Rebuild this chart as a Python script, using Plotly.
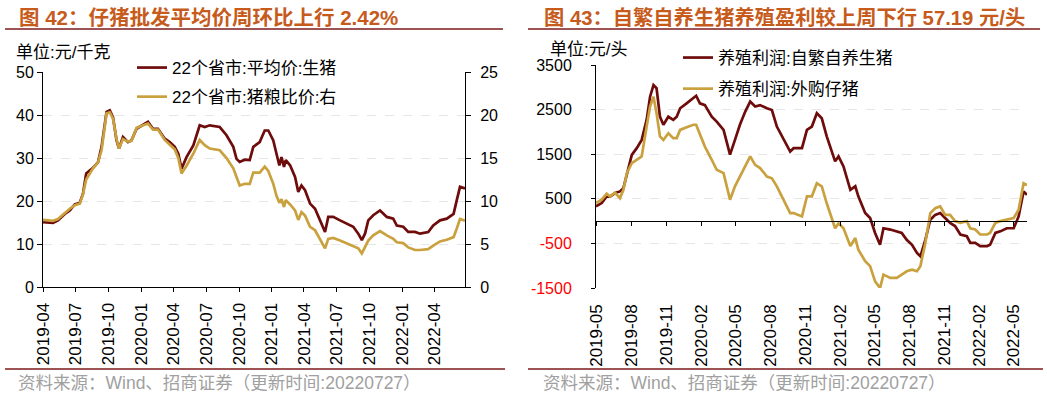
import plotly.graph_objects as go

W, H = 1047, 397

# ---------------- data: left chart (22 provinces) ----------------
left_dates = [
    "2019-04-01", "2019-04-29", "2019-05-13", "2019-06-01", "2019-06-15", "2019-06-29",
    "2019-07-13", "2019-07-22", "2019-07-31", "2019-08-19", "2019-09-02", "2019-09-12",
    "2019-09-26", "2019-10-05", "2019-10-14", "2019-10-24", "2019-10-31", "2019-11-11",
    "2019-11-25", "2019-12-05", "2019-12-19", "2020-01-06", "2020-01-20", "2020-02-03",
    "2020-02-17", "2020-03-07", "2020-03-21", "2020-04-04", "2020-04-14", "2020-04-23",
    "2020-05-07", "2020-05-26", "2020-06-13", "2020-06-27", "2020-07-11", "2020-08-08",
    "2020-08-27", "2020-09-15", "2020-09-24", "2020-10-03", "2020-10-17", "2020-10-31",
    "2020-11-10", "2020-11-28", "2020-12-12", "2020-12-22", "2021-01-05", "2021-01-14",
    "2021-01-22", "2021-01-28", "2021-02-04", "2021-02-09", "2021-02-21", "2021-03-07",
    "2021-03-16", "2021-03-25", "2021-04-04", "2021-04-18", "2021-05-02", "2021-05-16",
    "2021-05-30", "2021-06-08", "2021-06-22", "2021-07-11", "2021-07-29", "2021-08-17",
    "2021-08-31", "2021-09-10", "2021-09-19", "2021-09-28", "2021-10-12", "2021-10-31",
    "2021-11-19", "2021-12-07", "2021-12-17", "2022-01-04", "2022-01-18", "2022-02-06",
    "2022-02-20", "2022-03-15", "2022-03-29", "2022-04-17", "2022-05-06", "2022-05-25",
    "2022-06-03", "2022-06-12", "2022-06-26",
]
price_avg = [
    15.1, 14.9, 15.5, 17.0, 17.8, 19.2, 19.6, 21.7, 26.4, 27.7, 29.0, 32.6,
    40.7, 41.1, 39.5, 34.1, 32.2, 34.9, 33.7, 34.1, 36.8, 37.6, 38.4, 36.8,
    36.8, 34.5, 33.7, 32.6, 31.0, 27.5, 30.2, 32.9, 37.6, 37.2, 37.6, 37.2,
    35.3, 32.6, 29.8, 29.1, 29.6, 29.5, 32.6, 33.7, 36.4, 36.4, 34.1, 31.0,
    28.3, 30.2, 27.9, 29.5, 28.3, 25.6, 22.1, 23.6, 22.5, 19.4, 18.2, 15.5,
    12.8, 16.3, 16.3, 15.5, 14.7, 14.0, 12.4, 10.9, 12.4, 15.5, 16.7, 17.8,
    16.3, 15.9, 14.3, 14.0, 12.8, 12.8, 12.4, 12.8, 14.3, 15.5, 15.9, 17.0,
    20.2, 23.3, 22.9,
]
pig_grain_ratio = [
    7.8, 7.7, 7.9, 8.6, 9.1, 9.5, 9.7, 10.8, 12.5, 13.8, 14.5, 15.9,
    20.2, 20.3, 19.6, 17.2, 16.1, 17.2, 16.9, 17.0, 18.5, 18.8, 19.0, 18.3,
    18.3, 17.1, 16.5, 16.0, 15.0, 13.2, 14.1, 15.5, 17.1, 16.5, 16.1, 15.9,
    15.0, 13.8, 12.8, 11.8, 12.0, 12.0, 13.3, 13.3, 14.0, 13.5, 12.0, 10.6,
    9.8, 10.2, 9.3, 10.1, 9.6, 8.9, 7.8, 8.7, 8.3, 7.0, 6.6, 5.6,
    4.5, 5.6, 5.7, 5.4, 5.1, 4.8, 4.5, 3.9, 4.6, 5.4, 6.0, 6.5,
    6.0, 5.6, 5.2, 5.1, 4.6, 4.3, 4.3, 4.4, 4.8, 5.3, 5.5, 5.8,
    6.8, 7.9, 7.7,
]

# ---------------- data: right chart (profit per head) ----------------
right_dates = [
    "2019-05-01", "2019-05-16", "2019-05-29", "2019-06-07", "2019-06-20", "2019-07-03",
    "2019-07-12", "2019-07-21", "2019-08-03", "2019-08-16", "2019-08-29", "2019-09-11",
    "2019-09-20", "2019-09-29", "2019-10-07", "2019-10-16", "2019-10-25", "2019-11-07",
    "2019-11-20", "2019-11-29", "2019-12-08", "2019-12-25", "2020-01-12", "2020-01-19",
    "2020-01-29", "2020-02-11", "2020-02-29", "2020-03-13", "2020-03-31", "2020-04-17",
    "2020-04-30", "2020-05-13", "2020-05-27", "2020-06-09", "2020-06-22", "2020-07-05",
    "2020-07-23", "2020-08-05", "2020-08-18", "2020-09-04", "2020-09-22", "2020-10-01",
    "2020-10-23", "2020-11-05", "2020-11-18", "2020-12-01", "2020-12-14", "2020-12-27",
    "2021-01-18", "2021-01-27", "2021-02-09", "2021-02-27", "2021-03-12", "2021-03-20",
    "2021-04-07", "2021-04-20", "2021-05-03", "2021-05-16", "2021-05-25", "2021-06-12",
    "2021-06-29", "2021-07-12", "2021-07-25", "2021-08-08", "2021-08-21", "2021-08-30",
    "2021-09-12", "2021-09-25", "2021-10-08", "2021-10-21", "2021-11-03", "2021-11-16",
    "2021-11-29", "2021-12-13", "2021-12-30", "2022-01-08", "2022-01-21", "2022-02-03",
    "2022-02-21", "2022-03-01", "2022-03-15", "2022-03-28", "2022-04-14", "2022-05-02",
    "2022-05-15", "2022-05-28", "2022-06-06",
]
profit_self_bred = [
    330, 404, 553, 550, 628, 665, 740, 1075, 1486, 1635, 1820, 2270,
    2790, 3050, 2980, 2340, 2160, 2340, 2270, 2340, 2530, 2640, 2750, 2810,
    2640, 2600, 2340, 2230, 2045, 1490, 1820, 2160, 2455, 2680, 2570, 2600,
    2530, 2490, 2120, 1860, 1560, 1635, 1635, 2045, 2120, 2420, 2305, 1900,
    1340, 1450, 1225, 700, 780, 555, 180, 70, -265, -530, -160, -190,
    -230, -265, -420, -530, -715, -790, -420, 30, 140, 180, 70, -40,
    -110, -300, -340, -490, -490, -560, -560, -530, -265, -230, -160, -160,
    105, 665, 590,
]
profit_bought_piglet = [
    404, 480, 613, 550, 640, 515, 700, 1075, 1300, 1375, 1450, 2120,
    2570, 2790, 2420, 1900, 1820, 1970, 1860, 1860, 2045, 2105, 2160, 2160,
    1930, 1670, 1375, 1150, 1075, 480, 780, 1000, 1260, 1450, 1260, 1190,
    1000, 960, 780, 480, 180, 180, 105, 555, 555, 850, 780, 400,
    -160, -50, -160, -560, -380, -640, -900, -1010, -1350, -1500, -1200, -1275,
    -1275, -1200, -1125, -1090, -1125, -1010, -490, 180, 290, 330, 140, 140,
    0, -40, 0, -160, -190, -300, -300, -265, -40, 0, 30, 70,
    255, 850, 810,
]

left_title = "图 42：仔猪批发平均价周环比上行 2.42%"
right_title = "图 43：自繁自养生猪养殖盈利较上周下行 57.19 元/头"
source_text = "资料来源：Wind、招商证券（更新时间:20220727）"
left_unit = "单位:元/千克"
right_unit = "单位:元/头"
left_names = ["22个省市:平均价:生猪", "22个省市:猪粮比价:右"]
right_names = ["养殖利润:自繁自养生猪", "养殖利润:外购仔猪"]
right_yticks = [-1500, -500, 500, 1500, 2500, 3500]

# ---------------- style ----------------
C_RED = "#6E0B0B"
C_GOLD = "#C9A13E"
C_TITLE = "#C65B1C"
C_RULE = "#7D1A1A"
FONT = "Liberation Sans, Arial, Noto Sans CJK SC, sans-serif"


def X(px):
    return px / W


def Y(py):
    return 1 - py / H


L_X = [X(43), X(465)]
L_Y = [Y(287), Y(72)]
R_X = [X(596), X(1027)]
R_Y = [Y(288), Y(65)]
R_RANGE = [-1500, 3500]
zero_pos = R_Y[0] + (0 - R_RANGE[0]) / (R_RANGE[1] - R_RANGE[0]) * (R_Y[1] - R_Y[0])

fig = go.Figure()
fig.add_trace(go.Scatter(x=left_dates, y=price_avg, name=left_names[0], mode="lines",
                         line=dict(color=C_RED, width=2.7), xaxis="x", yaxis="y",
                         legend="legend", legendgroup="a"))
fig.add_trace(go.Scatter(x=left_dates, y=pig_grain_ratio, name=left_names[1], mode="lines",
                         line=dict(color=C_GOLD, width=2.7), xaxis="x", yaxis="y2",
                         legend="legend", legendgroup="b"))
fig.add_trace(go.Scatter(x=right_dates, y=profit_self_bred, name=right_names[0], mode="lines",
                         line=dict(color=C_RED, width=2.7), xaxis="x2", yaxis="y3",
                         legend="legend2", legendgroup="c"))
fig.add_trace(go.Scatter(x=right_dates, y=profit_bought_piglet, name=right_names[1], mode="lines",
                         line=dict(color=C_GOLD, width=2.7), xaxis="x2", yaxis="y3",
                         legend="legend2", legendgroup="d"))
# helper (empty) trace so the zero-line axis is drawn
fig.add_trace(go.Scatter(x=[], y=[], xaxis="x3", yaxis="y3", showlegend=False,
                         hoverinfo="skip"))

tickfont_x = dict(family=FONT, size=17, color="black")
tickfont_y = dict(family=FONT, size=16, color="black")

ytext = []
for v in right_yticks:
    if v < 0:
        ytext.append('<span style="color:#FF0000">%d</span>' % v)
    else:
        ytext.append(str(v))

fig.update_layout(
    width=W, height=H,
    margin=dict(l=0, r=0, t=0, b=0, pad=0, autoexpand=False),
    paper_bgcolor="white", plot_bgcolor="white",
    font=dict(family=FONT, color="black"),
    xaxis=dict(domain=L_X, anchor="y", type="date", automargin=False,
               range=["2019-04-01", "2022-06-26"],
               tick0="2019-04-01", dtick="M3", tickformat="%Y-%m",
               tickangle=-90, tickfont=tickfont_x,
               showline=True, linecolor="black", linewidth=1,
               ticks="outside", ticklen=4, tickcolor="black",
               showgrid=False, zeroline=False, ticklabelstandoff=4),
    yaxis=dict(domain=L_Y, anchor="x", range=[0, 50], dtick=10, automargin=False,
               tickfont=tickfont_y, showline=True, linecolor="black", linewidth=1,
               ticks="outside", ticklen=5, tickcolor="black",
               showgrid=True, gridcolor="#E6E6E6", griddash="dash", gridwidth=1,
               zeroline=False),
    yaxis2=dict(overlaying="y", side="right", anchor="x", range=[0, 25], dtick=5,
                automargin=False,
                tickfont=tickfont_y, showline=True, linecolor="black", linewidth=1,
                ticks="outside", ticklen=5, tickcolor="black", showgrid=False,
                zeroline=False, ticklabelstandoff=6),
    xaxis2=dict(domain=R_X, anchor="y3", type="date", automargin=False,
                range=["2019-05-01", "2022-06-06"],
                tick0="2019-05-01", dtick="M3", tickformat="%Y-%m",
                tickangle=-90, tickfont=tickfont_x,
                showline=False, ticks="", showgrid=False, zeroline=False,
                ticklabelstandoff=12),
    xaxis3=dict(overlaying="x2", anchor="free", position=zero_pos, type="date",
                automargin=False,
                range=["2019-05-01", "2022-06-06"],
                tick0="2019-05-01", dtick="M3",
                showticklabels=False, showline=True, linecolor="black", linewidth=1,
                ticks="outside", ticklen=4, tickcolor="black",
                showgrid=False, zeroline=False),
    yaxis3=dict(domain=R_Y, anchor="x2", range=R_RANGE, automargin=False,
                tickvals=right_yticks, ticktext=ytext, tickfont=tickfont_y,
                showline=True, linecolor="black", linewidth=1,
                ticks="outside", ticklen=4, tickcolor="black",
                showgrid=True, gridcolor="#E6E6E6", griddash="dash", gridwidth=1,
                zeroline=False, ticklabelstandoff=16),
    legend=dict(x=X(132), y=Y(50), xanchor="left", yanchor="top",
                bgcolor="rgba(0,0,0,0)", font=dict(family=FONT, size=17),
                tracegroupgap=4, itemclick=False),
    legend2=dict(x=X(678), y=Y(40), xanchor="left", yanchor="top",
                 bgcolor="rgba(0,0,0,0)", font=dict(family=FONT, size=17),
                 tracegroupgap=6, itemclick=False),
    showlegend=True,
)

annotations = [
    dict(text="<b>%s</b>" % left_title, x=X(17), y=Y(17), xanchor="left", yanchor="middle",
         font=dict(family=FONT, size=20.5, color=C_TITLE)),
    dict(text="<b>%s</b>" % right_title, x=X(542), y=Y(17), xanchor="left", yanchor="middle",
         font=dict(family=FONT, size=20.3, color=C_TITLE)),
    dict(text=left_unit, x=X(14), y=Y(52), xanchor="left", yanchor="middle",
         font=dict(family=FONT, size=17, color="black")),
    dict(text=right_unit, x=X(548), y=Y(50), xanchor="left", yanchor="middle",
         font=dict(family=FONT, size=17, color="black")),
    dict(text=source_text, x=X(16), y=Y(383), xanchor="left", yanchor="middle",
         font=dict(family=FONT, size=17.5, color="#A0A0A0")),
    dict(text=source_text, x=X(541), y=Y(383), xanchor="left", yanchor="middle",
         font=dict(family=FONT, size=17.5, color="#A0A0A0")),
]
for a in annotations:
    a.update(xref="paper", yref="paper", showarrow=False)
fig.update_layout(annotations=annotations)

rules = [(5, 503, 29), (528, 1040, 29), (5, 505, 369), (528, 1043, 369)]
shapes = []
for x0, x1, yy in rules:
    shapes.append(dict(type="line", xref="paper", yref="paper",
                       x0=X(x0), x1=X(x1), y0=Y(yy), y1=Y(yy),
                       line=dict(color=C_RULE, width=1.5)))
fig.update_layout(shapes=shapes)

fig.write_html(
    "out.html",
    config={"displayModeBar": False},
    post_script="document.body.style.margin='0';document.body.style.overflow='hidden';",
)
